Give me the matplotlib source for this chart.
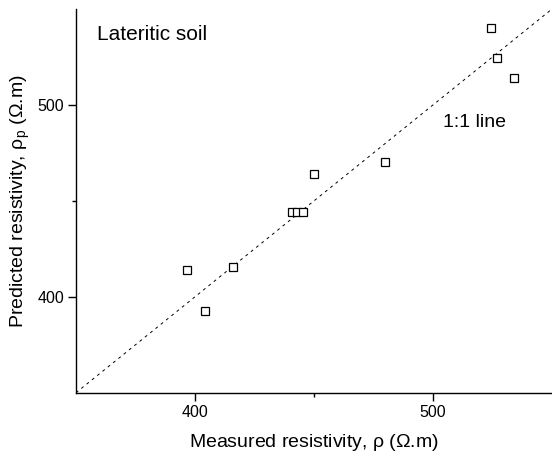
import numpy as np
import matplotlib
matplotlib.use('Agg')
import matplotlib.pyplot as plt

plt.rcParams['font.family'] = ['Liberation Sans', 'DejaVu Sans']
plt.rcParams['mathtext.fontset'] = 'custom'
plt.rcParams['mathtext.rm'] = 'Liberation Sans'
plt.rcParams['mathtext.it'] = 'Liberation Sans'

# Measured vs predicted resistivity (Ohm.m)
measured = [524.2, 526.7, 534.2, 479.8, 450.0, 440.8, 443.0, 445.3, 396.6, 416.0, 404.0]
predicted = [540.3, 524.2, 514.0, 470.3, 464.2, 444.1, 444.1, 444.1, 413.8, 415.4, 392.6]

one_to_one = [350, 550]

fig = plt.figure(figsize=(5.52, 4.57), dpi=100)
ax = fig.add_axes([0.1377, 0.1407, 0.8623, 0.8396])

ax.plot(one_to_one, one_to_one, color='k', linestyle=(0, (3, 4)), linewidth=0.7)
ax.plot(measured, predicted, linestyle='none', marker='s', markersize=5.5,
        markerfacecolor='white', markeredgecolor='k', markeredgewidth=0.9)

ax.set_xlim(350, 550)
ax.set_ylim(350, 550)
ax.set_xticks([400, 500])
ax.set_yticks([400, 500])
ax.set_xticks([450], minor=True)
ax.set_yticks([450], minor=True)
ax.tick_params(which='major', direction='out', length=5.5, width=1, labelsize=11.5, pad=3)
ax.tick_params(which='minor', direction='out', length=3, width=1)

for s in ['top', 'right']:
    ax.spines[s].set_visible(False)
for s in ['left', 'bottom']:
    ax.spines[s].set_linewidth(1.0)

ax.set_xlabel('Measured resistivity, $\\mathregular{\\rho}$ (Ω.m)', fontsize=14, labelpad=9)
ax.set_ylabel('Predicted resistivity, $\\mathregular{\\rho_p}$ (Ω.m)', fontsize=14, labelpad=4)

ax.text(0.044, 0.958, 'Lateritic soil', transform=ax.transAxes, fontsize=15,
        ha='left', va='top')
ax.text(0.77, 0.704, '1:1 line', transform=ax.transAxes, fontsize=14,
        ha='left', va='center')

fig.savefig('out.png', dpi=100)
